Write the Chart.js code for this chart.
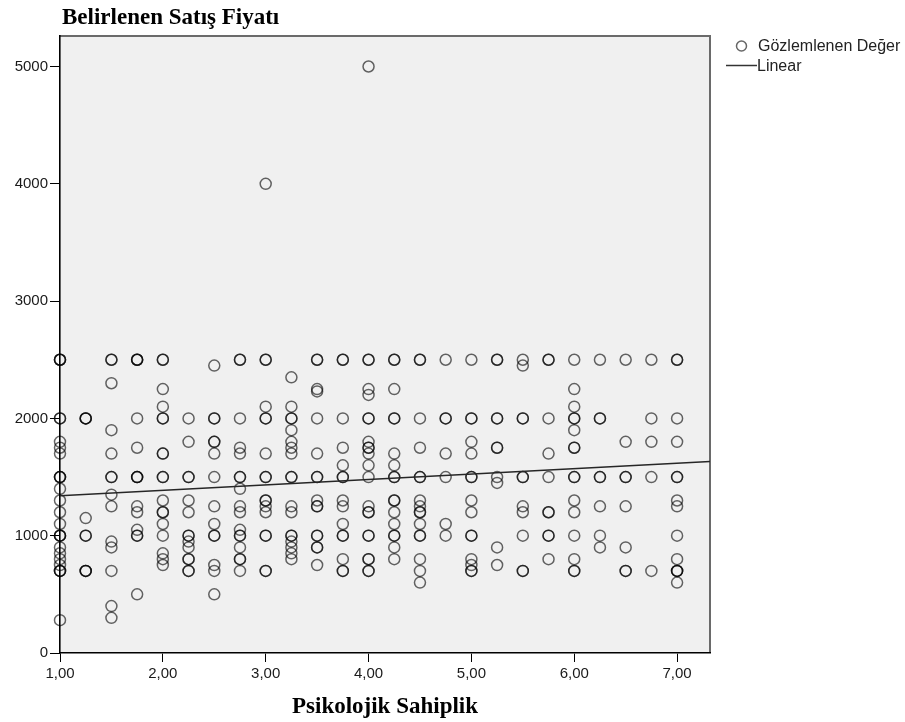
<!DOCTYPE html>
<html lang="tr">
<head>
<meta charset="utf-8">
<title>Belirlenen Satış Fiyatı</title>
<script src="https://cdn.jsdelivr.net/npm/chart.js"></script>
<style>
  html, body { margin:0; padding:0; background:#fff; }
  #grafik { display:block; }
</style>
</head>
<body>
<canvas id="grafik" width="905" height="722"></canvas>
<script>
// Psikolojik Sahiplik değerleri (x sütunları)
var sahiplik = [1, 1.25, 1.5, 1.75, 2, 2.25, 2.5, 2.75, 3, 3.25, 3.5, 3.75, 4, 4.25, 4.5, 4.75, 5, 5.25, 5.5, 5.75, 6, 6.25, 6.5, 6.75, 7];

// her sütundaki gözlemlenen satış fiyatları (üst üste binenler tekrar yazıldı)
var fiyatlar = [
  [2500,2500,2500,2000,2000,1800,1750,1700,1500,1500,1500,1400,1300,1200,1100,1000,1000,1000,900,850,800,750,700,700,700,280],
  [2000,2000,2000,1150,1000,1000,700,700,700],
  [2500,2500,2300,1900,1700,1500,1500,1350,1250,950,900,700,400,300],
  [2500,2500,2500,2000,1750,1500,1500,1500,1250,1200,1050,1000,1000,500],
  [2500,2500,2250,2100,2000,2000,1700,1700,1500,1500,1300,1200,1200,1100,1000,850,800,750],
  [2000,1800,1500,1500,1300,1200,1000,1000,950,900,800,800,700,700],
  [2450,2000,2000,1800,1800,1700,1500,1250,1100,1000,1000,750,700,500],
  [2500,2500,2000,1750,1700,1500,1500,1400,1250,1200,1050,1000,1000,900,800,800,700],
  [4000,2500,2500,2100,2000,2000,1700,1500,1500,1300,1300,1250,1200,1000,1000,700,700],
  [2350,2100,2000,2000,1900,1800,1750,1700,1500,1500,1250,1200,1000,1000,950,900,850,800],
  [2500,2500,2250,2230,2000,1700,1500,1500,1300,1250,1250,1000,1000,900,900,750],
  [2500,2500,2000,1750,1600,1500,1500,1300,1250,1100,1000,1000,800,700,700],
  [5000,2500,2500,2250,2200,2000,2000,1800,1750,1750,1700,1600,1500,1250,1200,1200,1000,1000,800,800,700,700],
  [2500,2500,2250,2000,2000,1700,1600,1500,1500,1300,1300,1200,1100,1000,1000,900,800],
  [2500,2500,2000,1750,1500,1500,1300,1250,1200,1200,1100,1000,1000,800,700,600],
  [2500,2000,2000,1700,1500,1100,1000],
  [2500,2000,2000,1800,1700,1500,1500,1300,1200,1000,1000,800,750,700,700],
  [2500,2500,2000,2000,1750,1750,1500,1450,900,750],
  [2500,2450,2000,2000,1500,1500,1250,1200,1000,700,700],
  [2500,2500,2000,1700,1500,1200,1200,1000,1000,800],
  [2500,2250,2100,2000,2000,1900,1750,1750,1500,1500,1300,1200,1000,800,700,700],
  [2500,2000,2000,1500,1500,1250,1000,900],
  [2500,1800,1500,1500,1250,900,700,700],
  [2500,2000,1800,1500,700],
  [2500,2500,2000,1800,1500,1500,1300,1250,1000,800,700,700,700,600]
];

// Linear uyum doğrusunun uç noktaları
var dogruX = [1, 7.32];
var dogruY = [1340, 1632];

// eksen tikleri
var xTikler = [1, 2, 3, 4, 5, 6, 7];
var xTikEtiketleri = ['1,00', '2,00', '3,00', '4,00', '5,00', '6,00', '7,00'];
var yTikler = [0, 1000, 2000, 3000, 4000, 5000];

(function(){
  var noktalar = [];
  sahiplik.forEach(function(x, i){
    fiyatlar[i].forEach(function(y){ noktalar.push({x: x, y: y}); });
  });
  var dogru = dogruX.map(function(x, i){ return {x: x, y: dogruY[i]}; });

  var daireRengi = 'rgba(0,0,0,0.6)';

  // arka plan, çerçeve, başlık ve açıklama
  var cizimEklentisi = {
    id: 'cizimEklentisi',
    beforeDraw: function(chart){
      var a = chart.chartArea, ctx = chart.ctx;
      ctx.save();
      ctx.fillStyle = '#f0f0f0';
      ctx.fillRect(a.left, a.top, a.right - a.left, a.bottom - a.top);
      ctx.strokeStyle = '#6a6a6a';
      ctx.lineWidth = 2;
      ctx.beginPath();
      ctx.moveTo(a.left, a.top);
      ctx.lineTo(a.right, a.top);
      ctx.lineTo(a.right, a.bottom);
      ctx.stroke();
      ctx.restore();
    },
    afterDraw: function(chart){
      var ctx = chart.ctx;
      ctx.save();
      ctx.fillStyle = '#000';
      ctx.font = 'bold 23px "Liberation Serif"';
      ctx.textBaseline = 'alphabetic';
      ctx.textAlign = 'left';
      ctx.fillText('Belirlenen Satış Fiyatı', 62, 24);

      // açıklama
      ctx.strokeStyle = daireRengi;
      ctx.lineWidth = 1.5;
      ctx.beginPath();
      ctx.arc(741.5, 46, 5, 0, Math.PI * 2);
      ctx.stroke();
      ctx.strokeStyle = '#333';
      ctx.lineWidth = 1.5;
      ctx.beginPath();
      ctx.moveTo(726, 65.5);
      ctx.lineTo(757, 65.5);
      ctx.stroke();
      ctx.fillStyle = '#222';
      ctx.font = '16px "Liberation Sans"';
      ctx.textBaseline = 'middle';
      ctx.fillText('Gözlemlenen Değer', 758, 47);
      ctx.fillText('Linear', 757, 67);
      ctx.restore();
    }
  };

  new Chart(document.getElementById('grafik').getContext('2d'), {
    type: 'scatter',
    data: {
      datasets: [{
        type: 'line',
        label: 'Linear',
        data: dogru,
        showLine: true,
        fill: false,
        borderColor: '#262626',
        borderWidth: 1.6,
        pointRadius: 0,
        clip: false
      }, {
        label: 'Gözlemlenen Değer',
        data: noktalar,
        pointStyle: 'circle',
        pointRadius: 5.5,
        pointBorderWidth: 1.5,
        pointBackgroundColor: 'rgba(0,0,0,0)',
        pointBorderColor: daireRengi,
        clip: false
      }]
    },
    options: {
      responsive: false,
      animation: false,
      devicePixelRatio: 1,
      events: [],
      layout: { padding: { left: 0, top: 36, right: 195, bottom: 0 } },
      plugins: { legend: { display: false }, tooltip: { enabled: false } },
      scales: {
        x: {
          type: 'linear', min: 1, max: 7.32,
          afterBuildTicks: function(s){ s.ticks = xTikler.map(function(v){ return {value: v}; }); },
          afterFit: function(s){ s.height = 69; },
          grid: { drawOnChartArea: false, drawTicks: true, tickLength: 9, color: '#000', lineWidth: 1 },
          border: { display: true, color: '#000', width: 1.6 },
          ticks: {
            color: '#1a1a1a', padding: 3, maxRotation: 0, autoSkip: false,
            font: { family: 'Liberation Sans', size: 15 },
            callback: function(v){ return xTikEtiketleri[xTikler.indexOf(v)]; }
          },
          title: {
            display: true, text: 'Psikolojik Sahiplik', color: '#000',
            font: { family: 'Liberation Serif', size: 23, weight: 'bold' },
            padding: { top: 0, bottom: 1 }
          }
        },
        y: {
          type: 'linear', min: 0, max: 5260,
          afterBuildTicks: function(s){ s.ticks = yTikler.map(function(v){ return {value: v}; }); },
          afterFit: function(s){ s.width = 60; },
          grid: { drawOnChartArea: false, drawTicks: true, tickLength: 10, color: '#000', lineWidth: 1 },
          border: { display: true, color: '#000', width: 1.6 },
          ticks: {
            color: '#1a1a1a', padding: 2,
            font: { family: 'Liberation Sans', size: 15 },
            callback: function(v){ return String(v); }
          }
        }
      }
    },
    plugins: [cizimEklentisi]
  });
})();
</script>
</body>
</html>
